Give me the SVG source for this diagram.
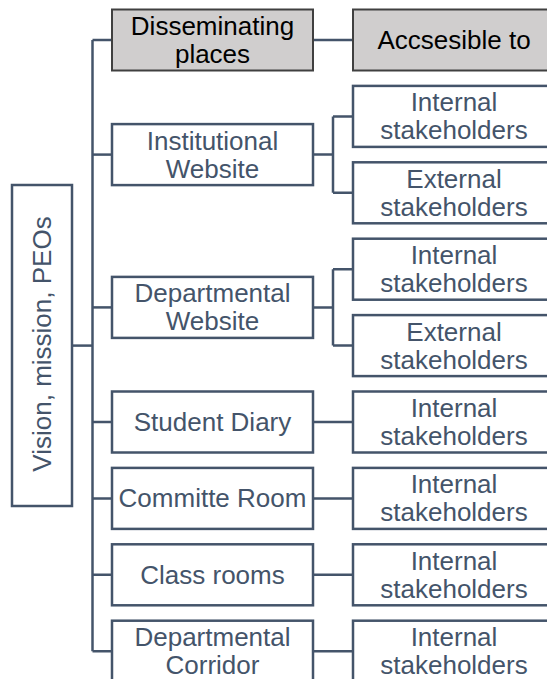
<svg xmlns="http://www.w3.org/2000/svg" width="547" height="679" viewBox="0 0 547 679">
<style>
.box{fill:#ffffff;stroke:#44546a;stroke-width:2.5}
.hdr{fill:#d0cece;stroke:#404040;stroke-width:2}
.t{font-family:"Liberation Sans",Arial,sans-serif;font-size:26px;fill:#44546a;text-anchor:middle}
.th{font-family:"Liberation Sans",Arial,sans-serif;font-size:26px;fill:#000000;text-anchor:middle}
.ln{fill:none;stroke:#44546a;stroke-width:2.5}
</style>
<rect width="547" height="679" fill="#ffffff"/>
<g id="connectors">
<path class="ln" d="M92.5,40 V651.2"/>
<path class="ln" d="M92.5,40 H112"/>
<path class="ln" d="M313,40 H353"/>
<path class="ln" d="M72,345.6 H92.5"/>
<path class="ln" d="M92.5,154.6 H112"/>
<path class="ln" d="M313,154.6 H333 M333,116.4 V192.8 M333,116.4 H353 M333,192.8 H353"/>
<path class="ln" d="M92.5,307.4 H112"/>
<path class="ln" d="M313,307.4 H333 M333,269.2 V345.6 M333,269.2 H353 M333,345.6 H353"/>
<path class="ln" d="M92.5,422 H112 M313,422 H353"/>
<path class="ln" d="M92.5,498.4 H112 M313,498.4 H353"/>
<path class="ln" d="M92.5,574.8 H112 M313,574.8 H353"/>
<path class="ln" d="M92.5,651.2 H112 M313,651.2 H353"/>
</g>
<g id="vision">
<rect class="box" x="12" y="185" width="60" height="321"/>
<text class="t" transform="translate(51,344) rotate(-90)">Vision, mission, PEOs</text>
</g>
<g id="hdr-places">
<rect class="hdr" x="112" y="9.5" width="201" height="61"/>
<text class="th" x="212.5" y="35">Disseminating</text>
<text class="th" x="212.5" y="63">places</text>
</g>
<g id="hdr-access">
<rect class="hdr" x="353" y="9.5" width="202" height="61"/>
<text class="th" x="454" y="49">Accsesible to</text>
</g>
<g id="inst-web">
<rect class="box" x="112" y="124.1" width="201" height="61"/>
<text class="t" x="212.5" y="149.6">Institutional</text>
<text class="t" x="212.5" y="177.6">Website</text>
</g>
<g id="inst-internal">
<rect class="box" x="353" y="85.9" width="202" height="61"/>
<text class="t" x="454" y="111.4">Internal</text>
<text class="t" x="454" y="139.4">stakeholders</text>
</g>
<g id="inst-external">
<rect class="box" x="353" y="162.3" width="202" height="61"/>
<text class="t" x="454" y="187.8">External</text>
<text class="t" x="454" y="215.8">stakeholders</text>
</g>
<g id="dept-web">
<rect class="box" x="112" y="276.9" width="201" height="61"/>
<text class="t" x="212.5" y="302.4">Departmental</text>
<text class="t" x="212.5" y="330.4">Website</text>
</g>
<g id="dept-internal">
<rect class="box" x="353" y="238.7" width="202" height="61"/>
<text class="t" x="454" y="264.2">Internal</text>
<text class="t" x="454" y="292.2">stakeholders</text>
</g>
<g id="dept-external">
<rect class="box" x="353" y="315.1" width="202" height="61"/>
<text class="t" x="454" y="340.6">External</text>
<text class="t" x="454" y="368.6">stakeholders</text>
</g>
<g id="diary">
<rect class="box" x="112" y="391.5" width="201" height="61"/>
<text class="t" x="212.5" y="431">Student Diary</text>
</g>
<g id="diary-internal">
<rect class="box" x="353" y="391.5" width="202" height="61"/>
<text class="t" x="454" y="417">Internal</text>
<text class="t" x="454" y="445">stakeholders</text>
</g>
<g id="committee">
<rect class="box" x="112" y="467.9" width="201" height="61"/>
<text class="t" x="212.5" y="507.4">Committe Room</text>
</g>
<g id="committee-internal">
<rect class="box" x="353" y="467.9" width="202" height="61"/>
<text class="t" x="454" y="493.4">Internal</text>
<text class="t" x="454" y="521.4">stakeholders</text>
</g>
<g id="classrooms">
<rect class="box" x="112" y="544.3" width="201" height="61"/>
<text class="t" x="212.5" y="583.8">Class rooms</text>
</g>
<g id="classrooms-internal">
<rect class="box" x="353" y="544.3" width="202" height="61"/>
<text class="t" x="454" y="569.8">Internal</text>
<text class="t" x="454" y="597.8">stakeholders</text>
</g>
<g id="corridor">
<rect class="box" x="112" y="620.7" width="201" height="61"/>
<text class="t" x="212.5" y="646.2">Departmental</text>
<text class="t" x="212.5" y="674.2">Corridor</text>
</g>
<g id="corridor-internal">
<rect class="box" x="353" y="620.7" width="202" height="61"/>
<text class="t" x="454" y="646.2">Internal</text>
<text class="t" x="454" y="674.2">stakeholders</text>
</g>
</svg>
